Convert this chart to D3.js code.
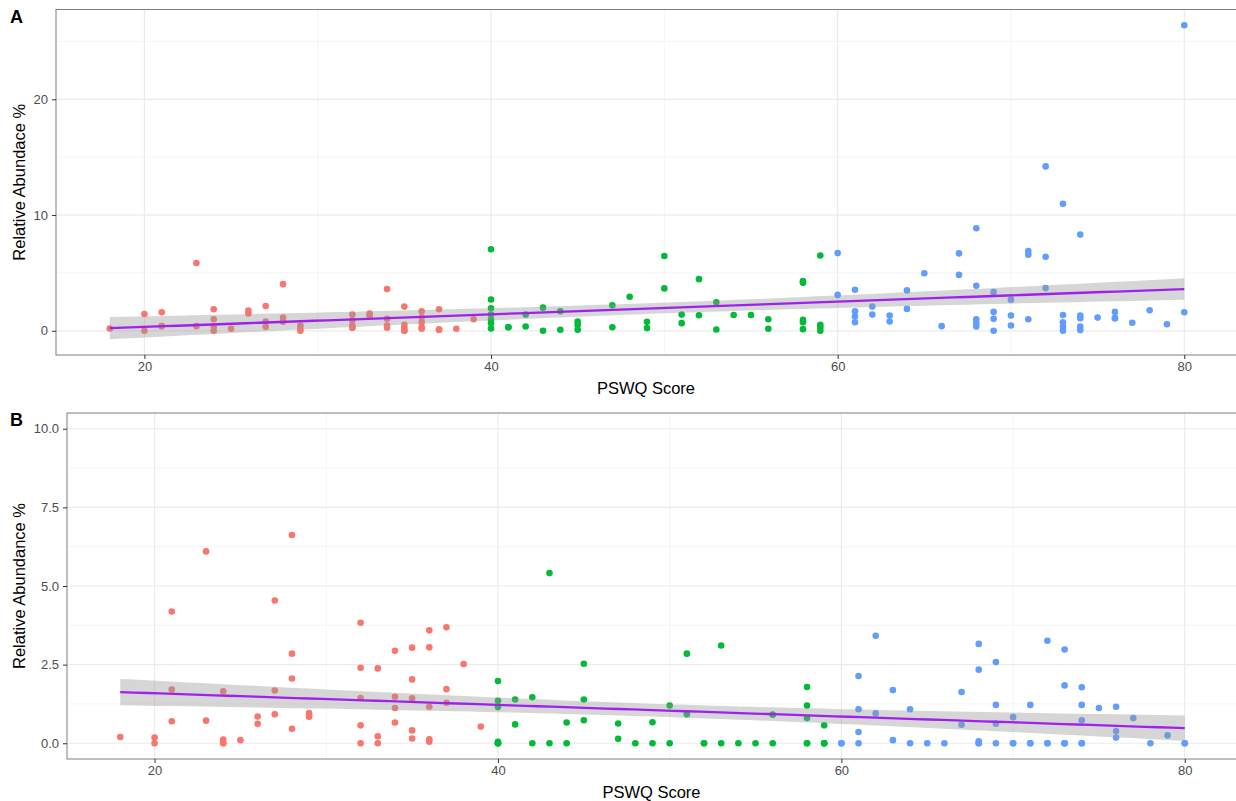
<!DOCTYPE html>
<html>
<head>
<meta charset="utf-8">
<script src="https://cdn.jsdelivr.net/npm/d3@7"></script>
<style>
  body { margin: 0; background: #fff; }
  svg { display: block; font-family: "Liberation Sans", Arial, sans-serif; }
</style>
</head>
<body>
<div id="chart"></div>
<script>
// PSWQ score vs relative abundance, two panels (A, B)

const width = 1236;
const height = 801;

// group colours by PSWQ band
const groupBreaks = [40, 60];
const groupColors = ["#F8766D", "#00BA38", "#619CFF"];

// x ticks (shared)
const xTicks = [20, 40, 60, 80];
const xMinor = [30, 50, 70];

// panel A: [PSWQ score, relative abundance %]
// (some points sit on top of each other)
const pointsA = [
  [18,0.2],
  [20,1.45],[20,0],
  [21,1.6],[21,0.4],[21,0.4],
  [23,5.86],[23,0.4],
  [24,1.86],[24,1.0],[24,0.37],[24,0],
  [25,0.17],
  [26,1.74],[26,1.49],
  [27,2.14],[27,0.8],[27,0.34],
  [28,4.03],[28,1.14],[28,0.8],[28,0.8],
  [29,0.46],[29,0.17],[29,0],
  [32,1.4],[32,0.91],[32,0.46],[32,0.26],[32,0.26],
  [33,1.49],[33,1.34],[33,1.34],
  [34,3.6],[34,1.03],[34,0.46],[34,0.26],
  [35,2.09],[35,0.51],[35,0.26],[35,0],[35,0],
  [36,1.69],[36,1.17],[36,0.74],[36,0.31],[36,0.17],
  [37,1.86],[37,0.1],[37,0.1],
  [38,0.17],
  [39,1.0],
  [40,7.05],[40,2.7],[40,1.95],[40,1.4],[40,0.95],[40,0.65],[40,0.2],
  [41,0.31],[41,0.31],
  [42,1.4],[42,0.37],
  [43,2.0],[43,0],
  [44,1.69],[44,0.09],
  [45,0.8],[45,0.51],[45,0.09],
  [47,2.2],[47,0.31],
  [48,2.94],
  [49,0.77],[49,0.23],
  [50,6.46],[50,3.66],
  [51,1.4],[51,0.66],
  [52,4.46],[52,1.34],
  [53,2.46],[53,0.11],
  [54,1.37],
  [55,1.37],
  [56,1.0],[56,0.17],
  [58,4.29],[58,4.14],[58,0.94],[58,0.74],[58,0.14],
  [59,6.51],[59,0.51],[59,0.29],[59,0],
  [60,6.71],[60,3.1],
  [61,3.54],[61,1.69],[61,1.23],[61,0.74],
  [62,2.09],[62,1.4],
  [63,1.31],[63,0.8],
  [64,3.49],[64,1.89],
  [65,4.97],
  [66,0.4],
  [67,6.69],[67,4.83],
  [68,8.86],[68,3.89],[68,1.0],[68,0.66],[68,0.37],
  [69,3.34],[69,1.63],[69,1.03],[69,0],
  [70,2.69],[70,1.31],[70,0.46],
  [71,6.89],[71,6.57],[71,1.0],
  [72,14.2],[72,6.4],[72,3.69],
  [73,10.97],[73,1.37],[73,0.74],[73,0.37],[73,0],
  [74,8.31],[74,1.31],[74,1.09],[74,0.37],[74,0.06],
  [75,1.14],
  [76,1.63],[76,1.09],[76,1.09],
  [77,0.69],
  [78,1.77],
  [79,0.57],
  [80,26.4],[80,1.6]
];
const yTicksA = [0, 10, 20];
const yMinorA = [5, 15, 25];

// panel B (stacked zeros included)
const pointsB = [
  [18,0.2],
  [20,0.18],[20,0],
  [21,4.19],[21,1.71],[21,0.7],
  [23,6.1],[23,0.72],
  [24,1.65],[24,0.12],[24,0],[24,0],
  [25,0.1],
  [26,0.85],[26,0.62],
  [27,4.54],[27,1.68],[27,0.92],
  [28,6.62],[28,2.85],[28,2.06],[28,0.46],
  [29,0.96],[29,0.9],[29,0.84],
  [32,3.83],[32,2.4],[32,1.44],[32,0.57],[32,0],
  [33,2.38],[33,0.22],[33,0],
  [34,2.94],[34,1.48],[34,1.12],[34,0.66],
  [35,3.04],[35,2.03],[35,1.43],[35,0.41],[35,0.15],
  [36,3.59],[36,3.05],[36,1.16],[36,0.13],[36,0.05],
  [37,3.69],[37,1.72],[37,1.29],
  [38,2.52],
  [39,0.53],
  [40,1.98],[40,1.35],[40,1.15],[40,0.05],[40,0],[40,0],[40,0],
  [41,1.39],[41,0.6],
  [42,1.46],[42,0],
  [43,5.41],[43,0],
  [44,0.66],[44,0],
  [45,2.53],[45,1.39],[45,0.73],
  [47,0.63],[47,0.14],
  [48,0],
  [49,0.67],[49,0],
  [50,1.2],[50,0],
  [51,2.85],[51,0.92],
  [52,0],[52,0],
  [53,3.11],[53,0],
  [54,0],[55,0],
  [56,0.91],[56,0],
  [58,1.79],[58,1.2],[58,0.8],[58,0],[58,0],
  [59,0.57],[59,0],[59,0],[59,0],
  [60,0],[60,0],
  [61,2.14],[61,1.08],[61,0.36],[61,0],
  [62,3.42],[62,0.95],
  [63,1.69],[63,0.1],
  [64,1.08],[64,0],
  [65,0],[66,0],
  [67,1.63],[67,0.59],
  [68,3.16],[68,2.34],[68,0.06],[68,0],[68,0],
  [69,2.58],[69,1.22],[69,0.62],[69,0],
  [70,0.83],[70,0],[70,0],
  [71,1.22],[71,0],[71,0],
  [72,3.26],[72,0],[72,0],
  [73,2.98],[73,1.84],[73,0],[73,0],[73,0],
  [74,1.78],[74,1.22],[74,0.73],[74,0],[74,0],
  [75,1.12],
  [76,1.16],[76,0.39],[76,0.18],
  [77,0.8],
  [78,0],
  [79,0.25],
  [80,0],[80,0]
];
const yTicksB = [0, 2.5, 5, 7.5, 10];
const yMinorB = [1.25, 3.75, 6.25, 8.75];
const yLimitsB = [0, 10];

const svg = d3.select("#chart")
  .append("svg")
  .attr("width", width)
  .attr("height", height);

const colorScale = d3.scaleThreshold().domain(groupBreaks).range(groupColors);

// simple least squares fit with 95% band (like geom_smooth(method = "lm"))
function linearFit(points) {
  const n = points.length;
  const mx = d3.mean(points, d => d[0]);
  const my = d3.mean(points, d => d[1]);
  const sxx = d3.sum(points, d => (d[0] - mx) ** 2);
  const sxy = d3.sum(points, d => (d[0] - mx) * (d[1] - my));
  const b = sxy / sxx;
  const a = my - b * mx;
  const rss = d3.sum(points, d => (d[1] - (a + b * d[0])) ** 2);
  const s = Math.sqrt(rss / (n - 2));
  const t = 1.976;
  const [x0, x1] = d3.extent(points, d => d[0]);
  return d3.range(80).map(i => {
    const x = x0 + (x1 - x0) * i / 79;
    const fit = a + b * x;
    const se = s * Math.sqrt(1 / n + (x - mx) ** 2 / sxx);
    return {x: x, fit: fit, lo: fit - t * se, hi: fit + t * se};
  });
}

function drawPanel(cfg) {
  const {points, box, yTicks, yMinor, yFormat, yLimits, label, yTitle} = cfg;
  const fitLine = linearFit(points);

  // x domain: data range + 5%
  const xr = d3.extent(points, d => d[0]);
  const xpad = (xr[1] - xr[0]) * 0.05;
  const x = d3.scaleLinear()
    .domain([xr[0] - xpad, xr[1] + xpad])
    .range([box.left, box.right]);

  let yr = yLimits;
  if (!yr) {
    yr = [Math.min(d3.min(points, d => d[1]), d3.min(fitLine, d => d.lo)),
          Math.max(d3.max(points, d => d[1]), d3.max(fitLine, d => d.hi))];
  }
  const ypad = (yr[1] - yr[0]) * 0.05;
  const y = d3.scaleLinear()
    .domain([yr[0] - ypad, yr[1] + ypad])
    .range([box.bottom, box.top]);

  const g = svg.append("g");

  // clip for panel contents
  const clipId = "clip-" + label;
  svg.append("clipPath").attr("id", clipId)
    .append("rect")
    .attr("x", box.left).attr("y", box.top)
    .attr("width", box.right - box.left).attr("height", box.bottom - box.top);

  const inner = g.append("g").attr("clip-path", `url(#${clipId})`);

  // minor grid
  inner.selectAll(".vminor").data(xMinor).enter().append("line")
    .attr("x1", d => x(d)).attr("x2", d => x(d))
    .attr("y1", box.top).attr("y2", box.bottom)
    .attr("stroke", "#f2f2f2").attr("stroke-width", 0.8);
  inner.selectAll(".hminor").data(yMinor).enter().append("line")
    .attr("x1", box.left).attr("x2", box.right)
    .attr("y1", d => y(d)).attr("y2", d => y(d))
    .attr("stroke", "#f2f2f2").attr("stroke-width", 0.8);
  // major grid
  inner.selectAll(".vmajor").data(xTicks).enter().append("line")
    .attr("x1", d => x(d)).attr("x2", d => x(d))
    .attr("y1", box.top).attr("y2", box.bottom)
    .attr("stroke", "#ebebeb").attr("stroke-width", 1.2);
  inner.selectAll(".hmajor").data(yTicks).enter().append("line")
    .attr("x1", box.left).attr("x2", box.right)
    .attr("y1", d => y(d)).attr("y2", d => y(d))
    .attr("stroke", "#ebebeb").attr("stroke-width", 1.2);

  // points
  inner.selectAll(".pt").data(points).enter().append("circle")
    .attr("cx", d => x(d[0]))
    .attr("cy", d => y(d[1]))
    .attr("r", 3.3)
    .attr("fill", d => colorScale(d[0]));

  // confidence band + fit line
  inner.append("path")
    .datum(fitLine)
    .attr("d", d3.area().x(d => x(d.x)).y0(d => y(d.lo)).y1(d => y(d.hi)))
    .attr("fill", "#999999")
    .attr("fill-opacity", 0.4);
  inner.append("path")
    .datum(fitLine)
    .attr("d", d3.line().x(d => x(d.x)).y(d => y(d.fit)))
    .attr("fill", "none")
    .attr("stroke", "#A020F0")
    .attr("stroke-width", 2.3);

  // panel border
  g.append("rect")
    .attr("x", box.left).attr("y", box.top)
    .attr("width", box.right - box.left).attr("height", box.bottom - box.top)
    .attr("fill", "none").attr("stroke", "#7f7f7f").attr("stroke-width", 1);

  // axes
  const xAxis = g.append("g")
    .attr("transform", `translate(0,${box.bottom})`)
    .call(d3.axisBottom(x).tickValues(xTicks).tickSize(4).tickPadding(3));
  const yAxis = g.append("g")
    .attr("transform", `translate(${box.left},0)`)
    .call(d3.axisLeft(y).tickValues(yTicks).tickFormat(d3.format(yFormat)).tickSize(4).tickPadding(4));
  [xAxis, yAxis].forEach(ax => {
    ax.select(".domain").remove();
    ax.selectAll(".tick line").attr("stroke", "#333333");
    ax.selectAll(".tick text")
      .attr("fill", "#4d4d4d")
      .style("font-size", "13px")
      .style("font-family", "'Liberation Sans', Arial, sans-serif");
  });

  // axis titles
  g.append("text")
    .attr("x", (box.left + box.right) / 2 - 1)
    .attr("y", box.bottom + 39)
    .attr("text-anchor", "middle")
    .style("font-size", "16.5px")
    .text("PSWQ Score");
  g.append("text")
    .attr("transform", `translate(25,${(box.top + box.bottom) / 2}) rotate(-90)`)
    .attr("text-anchor", "middle")
    .style("font-size", "16.5px")
    .text(yTitle);

  // panel tag
  g.append("text")
    .attr("x", 10)
    .attr("y", box.top + 13)
    .style("font-size", "18px")
    .style("font-weight", "bold")
    .text(label);
}

drawPanel({
  points: pointsA,
  box: {left: 56, right: 1238, top: 9.5, bottom: 355},
  yTicks: yTicksA, yMinor: yMinorA, yFormat: "d",
  label: "A", yTitle: "Relative Abundace %"
});

drawPanel({
  points: pointsB,
  box: {left: 67, right: 1238, top: 413, bottom: 759},
  yTicks: yTicksB, yMinor: yMinorB, yFormat: ".1f", yLimits: yLimitsB,
  label: "B", yTitle: "Relative Abundance %"
});
</script>
</body>
</html>
